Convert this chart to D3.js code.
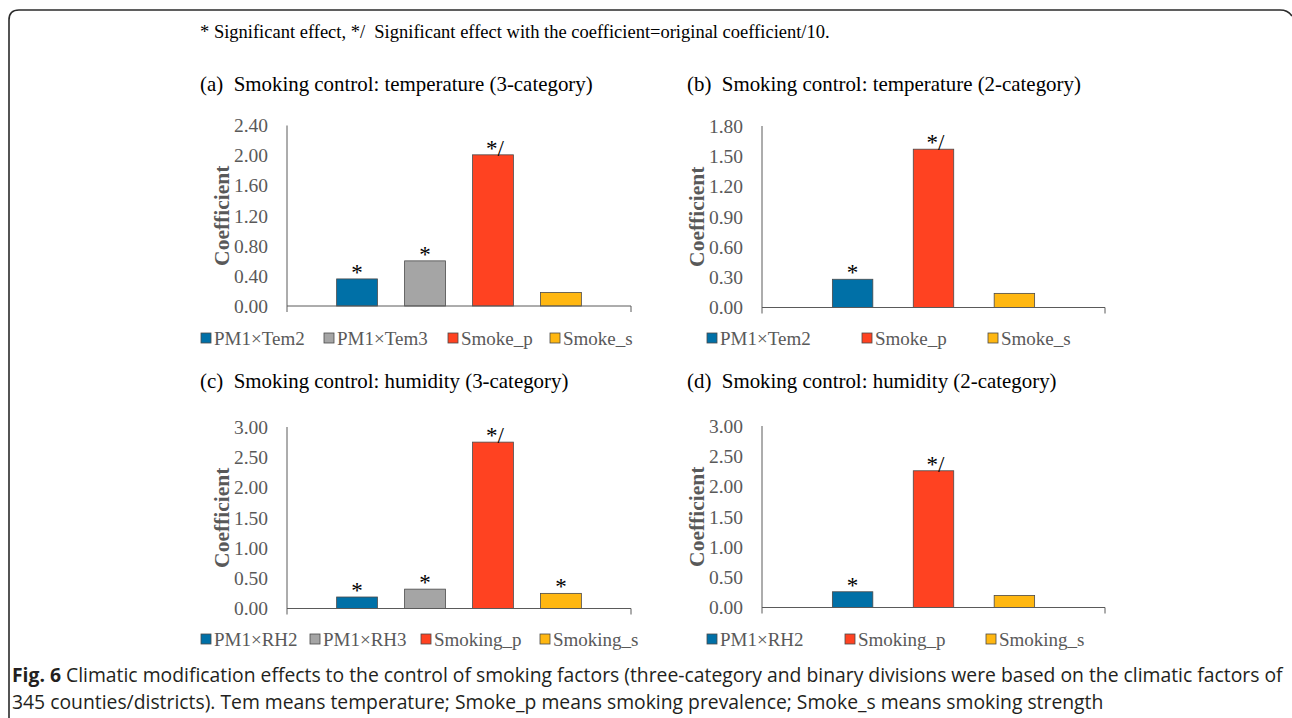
<!DOCTYPE html>
<html>
<head>
<meta charset="utf-8">
<script src="https://cdn.jsdelivr.net/npm/d3@7"></script>
<style>
  body { margin: 0; background: #fff; }
  svg { display: block; }
</style>
</head>
<body>
<script>
// chart values
const seriesA = ['PM1×Tem2', 'PM1×Tem3', 'Smoke_p', 'Smoke_s']
const valuesA = [0.36, 0.60, 2.01, 0.18]
const marksA = ['*', '*', '*/', '']
const ticksA = [0, 0.4, 0.8, 1.2, 1.6, 2.0, 2.4]

const seriesB = ['PM1×Tem2', 'Smoke_p', 'Smoke_s']
const valuesB = [0.28, 1.57, 0.14]
const marksB = ['*', '*/', '']
const ticksB = [0, 0.3, 0.6, 0.9, 1.2, 1.5, 1.8]

const seriesC = ['PM1×RH2', 'PM1×RH3', 'Smoking_p', 'Smoking_s']
const valuesC = [0.19, 0.32, 2.75, 0.25]
const marksC = ['*', '*', '*/', '*']
const ticksC = [0, 0.5, 1.0, 1.5, 2.0, 2.5, 3.0]

const seriesD = ['PM1×RH2', 'Smoking_p', 'Smoking_s']
const valuesD = [0.26, 2.26, 0.20]
const marksD = ['*', '*/', '']
const ticksD = [0, 0.5, 1.0, 1.5, 2.0, 2.5, 3.0]

const titles = [
  '(a)  Smoking control: temperature (3-category)',
  '(b)  Smoking control: temperature (2-category)',
  '(c)  Smoking control: humidity (3-category)',
  '(d)  Smoking control: humidity (2-category)'
]

const colors4 = ['#0070A7', '#A5A5A5', '#FF4221', '#FFB711']
const colors3 = ['#0070A7', '#FF4221', '#FFB711']

const width = 1292
const height = 718

const svg = d3.select('body')
  .append('svg')
  .attr('width', width)
  .attr('height', height)

// frame
svg.append('path')
  .attr('d', 'M9,740 L9,20 Q9,10 19,10 L1280,10 Q1288,10 1292,16')
  .attr('fill', 'none')
  .attr('stroke', '#2b2b2b')
  .attr('stroke-width', 1.6)

const serif = 'Liberation Serif, Times New Roman, serif'

svg.append('text')
  .attr('x', 200)
  .attr('y', 38)
  .attr('font-family', serif)
  .attr('font-size', 18.5)
  .attr('fill', '#000')
  .attr('xml:space', 'preserve')
  .text('* Significant effect, */  Significant effect with the coefficient=original coefficient/10.')

const panels = [
  { title: titles[0], series: seriesA, values: valuesA, marks: marksA, ticks: ticksA, colors: colors4,
    x0: 287, x1: 631, top: 125.5, bottom: 306, titleX: 200, titleY: 91, labelX: 222, legendY: 338,
    legendX: [201, 324, 448, 550], pi: 0.4, po: 0.73 },
  { title: titles[1], series: seriesB, values: valuesB, marks: marksB, ticks: ticksB, colors: colors3,
    x0: 762, x1: 1105, top: 126, bottom: 307.5, titleX: 687, titleY: 91, labelX: 697, legendY: 338,
    legendX: [707, 862, 988], pi: 0.5, po: 0.87 },
  { title: titles[2], series: seriesC, values: valuesC, marks: marksC, ticks: ticksC, colors: colors4,
    x0: 287, x1: 631, top: 427, bottom: 608.5, titleX: 200, titleY: 388, labelX: 222, legendY: 639,
    legendX: [201, 310, 421, 540], pi: 0.4, po: 0.73 },
  { title: titles[3], series: seriesD, values: valuesD, marks: marksD, ticks: ticksD, colors: colors3,
    x0: 762, x1: 1105, top: 426, bottom: 607.5, titleX: 687, titleY: 388, labelX: 697, legendY: 639,
    legendX: [707, 845, 986], pi: 0.5, po: 0.87 }
]

const axisColor = '#5a5a5a'
const textGray = '#595959'

panels.forEach(p => {
  const g = svg.append('g')

  g.append('text')
    .attr('x', p.titleX)
    .attr('y', p.titleY)
    .attr('font-family', serif)
    .attr('font-size', 20.9)
    .attr('fill', '#000')
    .attr('xml:space', 'preserve')
    .text(p.title)

  const x = d3.scaleBand()
    .domain(p.series)
    .range([p.x0, p.x1])
    .paddingInner(p.pi)
    .paddingOuter(p.po)

  const y = d3.scaleLinear()
    .domain([0, d3.max(p.ticks)])
    .range([p.bottom, p.top])

  // y axis tick labels
  const yAxis = g.append('g')
    .attr('transform', `translate(${p.x0},0)`)
    .call(d3.axisLeft(y).tickValues(p.ticks).tickFormat(d3.format('.2f')).tickSize(0).tickPadding(19))
  yAxis.select('.domain').remove()
  yAxis.selectAll('text')
    .attr('font-family', serif)
    .attr('font-size', 19.5)
    .attr('fill', textGray)

  // y label
  g.append('text')
    .attr('transform', `translate(${p.labelX},${(p.top + p.bottom) / 2}) rotate(-90)`)
    .attr('text-anchor', 'middle')
    .attr('dominant-baseline', 'central')
    .attr('font-family', serif)
    .attr('font-weight', 'bold')
    .attr('font-size', 21.5)
    .attr('fill', textGray)
    .text('Coefficient')

  // bars
  g.selectAll('rect.bar')
    .data(p.values)
    .join('rect')
    .attr('class', 'bar')
    .attr('x', (d, i) => x(p.series[i]))
    .attr('width', x.bandwidth())
    .attr('y', d => y(d))
    .attr('height', d => y(0) - y(d))
    .attr('fill', (d, i) => p.colors[i])
    .attr('stroke', '#4a4a4a')
    .attr('stroke-width', 0.8)

  // significance marks
  g.selectAll('text.mark')
    .data(p.values)
    .join('text')
    .attr('class', 'mark')
    .attr('x', (d, i) => x(p.series[i]) + x.bandwidth() / 2 + (p.marks[i] === '*/' ? 2 : 0))
    .attr('y', d => y(d) + 1)
    .attr('text-anchor', 'middle')
    .attr('font-family', serif)
    .attr('font-size', 23)
    .attr('fill', '#000')
    .text((d, i) => p.marks[i])

  // axes lines
  g.append('line')
    .attr('x1', p.x0).attr('x2', p.x0)
    .attr('y1', p.top).attr('y2', p.bottom + 6)
    .attr('stroke', axisColor).attr('stroke-width', 1)
  g.append('line')
    .attr('x1', p.x0).attr('x2', p.x1)
    .attr('y1', p.bottom).attr('y2', p.bottom)
    .attr('stroke', axisColor).attr('stroke-width', 1)
  g.append('line')
    .attr('x1', p.x1).attr('x2', p.x1)
    .attr('y1', p.bottom).attr('y2', p.bottom + 6)
    .attr('stroke', axisColor).attr('stroke-width', 1)

  // legend
  const leg = g.selectAll('g.leg')
    .data(p.series)
    .join('g')
    .attr('class', 'leg')
    .attr('transform', (d, i) => `translate(${p.legendX[i]},${p.legendY})`)
  leg.append('rect')
    .attr('x', 0).attr('y', -5)
    .attr('width', 10).attr('height', 10)
    .attr('fill', (d, i) => p.colors[i])
    .attr('stroke', '#4a4a4a')
    .attr('stroke-width', 0.8)
  leg.append('text')
    .attr('x', 13)
    .attr('y', 0)
    .attr('dominant-baseline', 'central')
    .attr('font-family', serif)
    .attr('font-size', 19)
    .attr('fill', textGray)
    .text(d => d)
})

// caption
const cap = svg.append('g')
  .attr('font-family', 'Open Sans, Noto Sans, sans-serif')
  .attr('fill', '#231f20')

const line1 = cap.append('text')
  .attr('x', 12)
  .attr('y', 682)
  .attr('font-size', 17)
line1.append('tspan').attr('font-weight', 'bold').text('Fig. 6')
line1.append('tspan').text(' Climatic modification effects to the control of smoking factors (three-category and binary divisions were based on the climatic factors of')

const line2 = cap.append('text')
  .attr('x', 12)
  .attr('y', 709)
  .attr('font-size', 17)
  .text('345 counties/districts). Tem means temperature; Smoke_p means smoking prevalence; Smoke_s means smoking strength')

// fit caption size to the first line
const k = 1271 / line1.node().getComputedTextLength()
line1.attr('font-size', 17 * k)
line2.attr('font-size', 17 * k)
</script>
</body>
</html>
